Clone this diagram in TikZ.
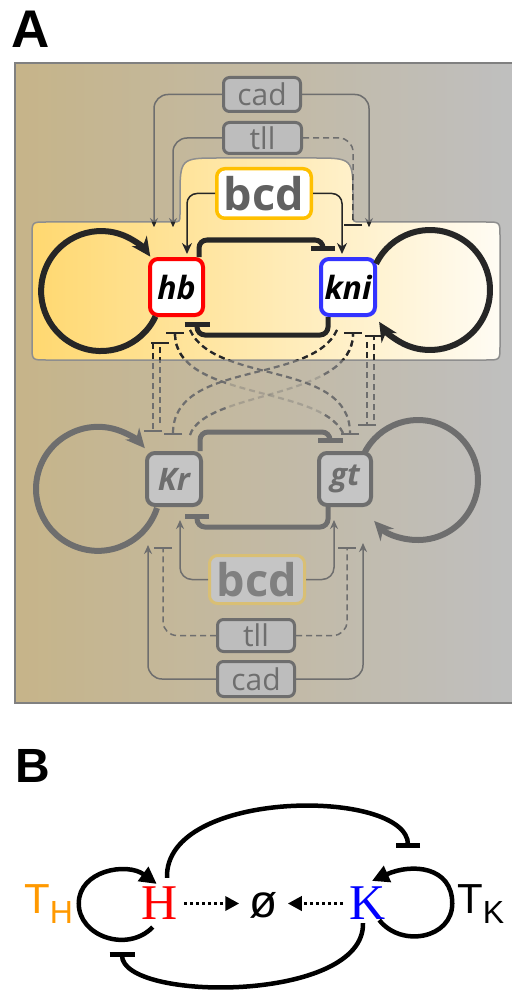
\documentclass[tikz,border=0pt]{standalone}
\usepackage{fontspec}
\setmainfont{Open Sans}
\newfontfamily\lsans{Liberation Sans}
\newfontfamily\lserif{Liberation Serif}
\usetikzlibrary{arrows.meta,calc}
\definecolor{bgL}{HTML}{C6B489}
\definecolor{bgR}{HTML}{BFBFBF}
\definecolor{yelL}{HTML}{FFD870}
\definecolor{yelR}{HTML}{FFFCF4}
\definecolor{ybord}{HTML}{8E8E8E}
\definecolor{gline}{HTML}{6E6E6E}
\definecolor{gfill}{HTML}{BDBDBD}
\definecolor{gfillb}{HTML}{C5C5C5}
\definecolor{bcdY}{HTML}{FFC000}
\definecolor{bcdT}{HTML}{D9BF74}
\definecolor{dk}{HTML}{262626}
\definecolor{knib}{HTML}{3333FF}
\definecolor{thor}{HTML}{FF9900}
\definecolor{frm}{HTML}{808080}
\tikzset{
  gsm/.style={draw=gline, line width=3pt, fill=gfill, rounded corners=6pt, inner sep=0pt, text=gline, font=\fontsize{30}{30}\selectfont},
  genebox/.style={line width=4pt, fill=white, rounded corners=8pt, inner sep=0pt, text=black, font=\fontsize{32}{32}\selectfont\bfseries\itshape},
  greygene/.style={draw=gline, line width=4pt, fill=gfillb, rounded corners=8pt, inner sep=0pt, text=gline, font=\fontsize{31}{31}\selectfont\bfseries\itshape},
  thinl/.style={line width=1.5pt},
  garr/.style={-{Stealth[length=9pt,width=8pt]}},
  tbar/.style={-{Bar[width=18pt]}},
  dsh/.style={line width=2.2pt, dash pattern=on 6pt off 4pt},
  bl/.style={black, line width=4.5pt},
  tri/.style={-{Triangle[length=17pt,width=17pt]}},
}
\newcommand\xlinks[1]{%
  \draw[#1, thinl, rounded corners=14pt, garr] (cad.west) -| (cadLt);
  \draw[#1, thinl, rounded corners=14pt, garr] (cad.east) -| (cadRt);
  \draw[#1, thinl, rounded corners=14pt, garr] (tll.west) -| (tllLt);
  \draw[#1, thinl, rounded corners=14pt, dash pattern=on 6pt off 4pt, tbar] (tll.east) -| (tllRt);
  \draw[#1, dsh, tbar] ([xshift=-23.5,yshift=-26]hb.south) -- ([xshift=-21,yshift=19]Kr.north);
  \draw[#1, dsh, tbar] ([xshift=-14,yshift=28]Kr.north) -- ([xshift=-16.5,yshift=-25]hb.south);
  \draw[#1, dsh, tbar] ([xshift=19,yshift=-25]kni.south) -- ([xshift=22,yshift=25]gt.north);
  \draw[#1, dsh, tbar] ([xshift=29,yshift=31]gt.north) -- ([xshift=26,yshift=-18]kni.south);
  \draw[#1, dsh, tbar] ([xshift=13.5,yshift=-13]hb.south) .. controls +(25,-55) and +(0,75) .. ([xshift=5,yshift=16]gt.north);
  \draw[#1, dsh, tbar] ([xshift=-11,yshift=-13]kni.south) .. controls +(-25,-55) and +(0,75) .. ([xshift=-1,yshift=16]Kr.north);
  \begin{scope}[opacity=.35]
    \draw[#1, dsh, tbar] ([xshift=-2,yshift=18]gt.north) .. controls +(-23,48) and +(0,-68) .. ([xshift=-1.5,yshift=-15]hb.south);
    \draw[#1, dsh, tbar] ([xshift=16,yshift=16]Kr.north) .. controls +(15,45) and +(0,-68) .. ([xshift=5,yshift=-15]kni.south);
  \end{scope}
  \begin{scope}
    \clip (0,0) rectangle (226,-470);
    \draw[#1, dsh, tbar] ([xshift=-2,yshift=18]gt.north) .. controls +(-23,48) and +(0,-68) .. ([xshift=-1.5,yshift=-15]hb.south);
    \draw[#1, dsh, tbar] ([xshift=16,yshift=16]Kr.north) .. controls +(15,45) and +(0,-68) .. ([xshift=5,yshift=-15]kni.south);
  \end{scope}
  \begin{scope}
    \clip (322,0) rectangle (511,-470);
    \draw[#1, dsh, tbar] ([xshift=-2,yshift=18]gt.north) .. controls +(-23,48) and +(0,-68) .. ([xshift=-1.5,yshift=-15]hb.south);
    \draw[#1, dsh, tbar] ([xshift=16,yshift=16]Kr.north) .. controls +(15,45) and +(0,-68) .. ([xshift=5,yshift=-15]kni.south);
  \end{scope}
}
\begin{document}
\begin{tikzpicture}[x=1pt,y=1pt]
\useasboundingbox (0,0) rectangle (511,-992);
% ---------- panel A ----------
\node[anchor=base west, inner sep=0pt, font=\lsans\bfseries\fontsize{53}{53}\selectfont] (LA) at (11,-48) {A};
\shade[left color=bgL, right color=bgR] (15,-63) rectangle (514,-703);
\draw[frm, line width=2pt] (15,-63) rectangle (514,-703);
\def\ypath{(46,-222) -- (172,-222) .. controls (180,-222) .. (180,-214) -- (180,-198) .. controls (180,-158) .. (220,-158) -- (313,-158) .. controls (353,-158) .. (353,-198) -- (353,-214) .. controls (353,-222) .. (361,-222) -- (486,-222) .. controls (500,-222) .. (500,-236) -- (500,-346) .. controls (500,-360) .. (486,-360) -- (46,-360) .. controls (32,-360) .. (32,-346) -- (32,-236) .. controls (32,-222) .. (46,-222) -- cycle}
\shade[left color=yelL, right color=yelR] \ypath;
\draw[ybord, line width=1.5pt] \ypath;
% nodes
\node[gsm, minimum width=77pt, minimum height=34pt] (cad) at (262,-94.5) {cad};
\node[gsm, minimum width=78pt, minimum height=31pt] (tll) at (262.5,-138) {tll};
\node[draw=bcdY, line width=3.5pt, fill=white, rounded corners=8pt, inner sep=0pt, minimum width=94.5pt, minimum height=49.5pt, text=black!62, font=\fontsize{45}{45}\selectfont\bfseries] (bcd) at (264,-193.5) {bcd};
\node[genebox, draw=red, minimum width=53pt, minimum height=56pt] (hb) at (176.5,-287) {hb};
\node[genebox, draw=knib, minimum width=54pt, minimum height=56pt] (kni) at (348,-287) {kni};
\node[greygene, minimum width=54pt, minimum height=52pt] (Kr) at (174,-479) {Kr};
\node[greygene, minimum width=52pt, minimum height=52pt] (gt) at (345,-479) {gt};
\node[draw=bcdT, line width=3pt, fill=gfillb, rounded corners=8pt, inner sep=0pt, minimum width=95pt, minimum height=48pt, text=black!50, font=\fontsize{45}{45}\selectfont\bfseries] (bcdb) at (257,-579.5) {bcd};
\node[gsm, minimum width=77pt, minimum height=32pt] (tllb) at (256,-635.5) {tll};
\node[gsm, minimum width=77pt, minimum height=35pt] (cadb) at (256,-679) {cad};
% free ends of input arrows
\coordinate (cadLt) at (154,-227);
\coordinate (cadRt) at (369,-227);
\coordinate (tllLt) at (173,-227);
\coordinate (tllRt) at (353,-226);
\coordinate (cadLb) at (148,-545);
\coordinate (cadRb) at (363,-543);
\coordinate (tllLb) at (163,-547);
\coordinate (tllRb) at (347,-547);
% grey cross links, then black inside the yellow module
\xlinks{gline}
\begin{scope}
  \clip \ypath;
  \xlinks{dk}
\end{scope}
% bottom inputs
\draw[gline, thinl, rounded corners=14pt, garr] (cadb.west) -| (cadLb);
\draw[gline, thinl, rounded corners=14pt, garr] (cadb.east) -| (cadRb);
\draw[gline, thinl, rounded corners=14pt, dash pattern=on 6pt off 4pt, tbar] (tllb.west) -| (tllLb);
\draw[gline, thinl, rounded corners=14pt, dash pattern=on 6pt off 4pt, tbar] (tllb.east) -| (tllRb);
\draw[gline, thinl, rounded corners=12pt, garr] (bcdb.west) -| ([xshift=6,yshift=-13]Kr.south);
\draw[gline, thinl, rounded corners=12pt, garr] (bcdb.east) -| ([xshift=-11,yshift=-13]gt.south);
% top module
\draw[dk, thinl, rounded corners=10pt, -{Stealth[length=11pt,width=10pt]}] (bcd.west) -| ([xshift=10.5,yshift=3]hb.north);
\draw[dk, thinl, rounded corners=10pt, -{Stealth[length=11pt,width=10pt]}] (bcd.east) -| ([xshift=-6,yshift=3]kni.north);
\draw[dk, line width=5pt, rounded corners=8pt, -{Bar[width=24pt]}] ([xshift=22.5]hb.north) -- ++(0,17) -| ([xshift=-25,yshift=6]kni.north);
\draw[dk, line width=5pt, rounded corners=8pt, -{Bar[width=25pt]}] ([xshift=-20]kni.south) -- ++(0,-18) -| ([xshift=20.5,yshift=-5]hb.south);
\draw[dk, line width=6pt, -{Stealth[length=19pt,width=18pt]}] ([xshift=-21,yshift=0.6]hb.south) arc[start angle=-25, end angle=-325, radius=60];
\draw[dk, line width=6pt, -{Stealth[length=19pt,width=18pt]}] ([xshift=-0.9,yshift=23.3]kni.east) arc[start angle=154, end angle=-148, radius=60];
% bottom module
\draw[gline, line width=5pt, rounded corners=8pt, -{Bar[width=25pt]}] ([xshift=26]Kr.north) -- ++(0,19) -| ([xshift=-15,yshift=8]gt.north);
\draw[gline, line width=5pt, rounded corners=8pt, -{Bar[width=24pt]}] ([xshift=-17]gt.south) -- ++(0,-20) -| ([xshift=23,yshift=-7]Kr.south);
\draw[gline, line width=6pt, -{Stealth[length=19pt,width=18pt]}] ([xshift=-17,yshift=-1]Kr.south) arc[start angle=-18, end angle=-319, radius=62];
\draw[gline, line width=6pt, -{Stealth[length=19pt,width=18pt]}] ([xshift=-8.9,yshift=25.3]gt.east) arc[start angle=154, end angle=-137, radius=60];
% ---------- panel B ----------
\node[anchor=base west, inner sep=0pt, font=\lsans\bfseries\fontsize{48}{48}\selectfont] (LB) at (15,-782) {B};
\node[inner sep=0pt, text=red, font=\lserif\fontsize{50}{50}\selectfont] (H) at (160,-903.5) {H};
\node[inner sep=0pt, text=blue, font=\lserif\fontsize{50}{50}\selectfont] (K) at (368,-903.5) {K};
\node[inner sep=0pt, font=\lsans\fontsize{46}{46}\selectfont] (E) at (263.5,-905) {ø};
\node[anchor=base west, inner sep=0pt, text=thor, font=\lsans\fontsize{42}{42}\selectfont] (TH) at (24,-913) {T\raisebox{-10pt}{\fontsize{32}{32}\selectfont H}};
\node[anchor=base west, inner sep=0pt, text=black, font=\lsans\fontsize{42}{42}\selectfont] (TK) at (457,-913) {T\raisebox{-10pt}{\fontsize{32}{32}\selectfont K}};
\draw[bl, tri] ([xshift=11,yshift=-7]H.south west) .. controls +(-25,-26) and +(0,-33) .. ([xshift=-63]H.west) .. controls +(0,33) and +(-30,22) .. ([xshift=15,yshift=3]H.north west);
\draw[bl, tri] ([xshift=-7]K.south east) .. controls +(22,-28) and +(0,-35) .. ([xshift=66]K.east) .. controls +(0,37) and +(40,18) .. ([xshift=4,yshift=6]K.north);
\draw[bl, -{Bar[width=24pt]}] ([xshift=7,yshift=9]H.north) .. controls +(-3,90) and +(0,60) .. ([xshift=40,yshift=39]K.north);
\draw[bl, -{Bar[width=25pt]}] ([xshift=-5,yshift=-3]K.south) .. controls +(2,-80) and +(0,-50) .. ([xshift=-38,yshift=-32]H.south);
\draw[black, line width=3.5pt, dash pattern=on 3pt off 3pt, -{Triangle[length=14pt,width=14pt]}] ([xshift=6]H.east) -- ($(H.east -| E.west)+(-10,0)$);
\draw[black, line width=3.5pt, dash pattern=on 3pt off 3pt, -{Triangle[length=14pt,width=14pt]}] ([xshift=-7]K.west) -- ($(K.west -| E.east)+(10,0)$);
\end{tikzpicture}
\end{document}
